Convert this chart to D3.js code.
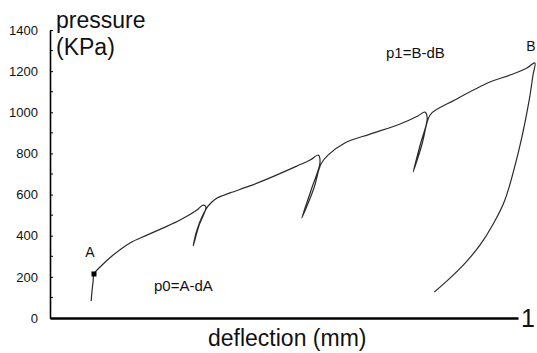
<!DOCTYPE html>
<html>
<head>
<meta charset="utf-8">
<script src="https://cdn.jsdelivr.net/npm/d3@7"></script>
<style>
  html, body { margin: 0; padding: 0; background: #fff; }
  svg { display: block; font-family: "Liberation Sans", Arial, sans-serif; }
</style>
</head>
<body>
<svg id="chart" width="537" height="353"></svg>
<script>
// Pressure–deflection record: loading with three unload/reload loops, then final unloading.
const deflection = [
  0.088, 0.090, 0.092, 0.094, 0.107, 0.135, 0.171, 0.207, 0.241, 0.278, 0.314, 0.327, 0.333,
  0.318, 0.306, 0.314, 0.335,
  0.346, 0.357, 0.385, 0.427, 0.470, 0.528, 0.556, 0.573, 0.577,
  0.558, 0.538, 0.564, 0.579,
  0.594, 0.630, 0.684, 0.748, 0.786, 0.801, 0.806,
  0.791, 0.776, 0.795, 0.808,
  0.816, 0.865, 0.940, 0.983, 1.019, 1.036,
  1.032, 1.024, 1.002, 0.972, 0.947, 0.919, 0.889, 0.857, 0.821
];
const pressure = [
  83, 136, 175, 214, 248, 306, 365, 403, 437, 476, 525, 549, 540,
  447, 350, 428, 535,
  564, 583, 608, 642, 681, 739, 768, 792, 758,
  622, 486, 632, 749,
  792, 851, 894, 943, 982, 1001, 972,
  841, 710, 846, 967,
  997, 1060, 1147, 1181, 1215, 1240,
  1181, 1060, 817, 574, 457, 355, 272, 199, 126
];
const yTickValues = [0, 200, 400, 600, 800, 1000, 1200, 1400];
const yMinorTicks = [100, 300, 500, 700, 900, 1100, 1300];

// Marked points on the curve
const pointA = { d: 0.094, p: 214, label: "A" };
const pointB = { d: 1.036, p: 1240, label: "B" };

const svg = d3.select("#chart");
const x = d3.scaleLinear().domain([0, 1]).range([50, 518]);
const y = d3.scaleLinear().domain([0, 1400]).range([318, 30]);

// y axis with small inward ticks
const yAxis = svg.append("g")
  .attr("transform", `translate(${x(0)},0)`)
  .call(d3.axisLeft(y).tickValues(yTickValues).tickSizeInner(-3).tickSizeOuter(0).tickPadding(12)
    .tickFormat(d3.format("d")));
yAxis.select(".domain").attr("stroke", "#000").attr("stroke-width", 1.6);
yAxis.selectAll(".tick line").attr("stroke", "#000");
yAxis.selectAll(".tick text").attr("font-size", 13).attr("fill", "#111")
  .attr("font-family", "\"Liberation Sans\", Arial, sans-serif");
svg.append("g").selectAll("line").data(yMinorTicks).join("line")
  .attr("x1", x(0)).attr("x2", x(0) + 3)
  .attr("y1", d => y(d)).attr("y2", d => y(d))
  .attr("stroke", "#000").attr("stroke-width", 1);

// x axis: plain heavy baseline
const xAxis = svg.append("g")
  .attr("transform", `translate(0,${y(0)})`)
  .call(d3.axisBottom(x).tickValues([]).tickSizeOuter(0));
xAxis.select(".domain").attr("stroke", "#000").attr("stroke-width", 2.4);

// the curve
const idx = d3.range(deflection.length);
const line = d3.line()
  .x(i => x(deflection[i]))
  .y(i => y(pressure[i]))
  .curve(d3.curveCatmullRom.alpha(0.5));
svg.append("path")
  .datum(idx)
  .attr("d", line)
  .attr("fill", "none")
  .attr("stroke", "#2a2a2a")
  .attr("stroke-width", 1.2)
  .attr("stroke-linejoin", "round");

// point A marker
svg.append("rect")
  .attr("x", x(pointA.d) - 2.5).attr("y", y(pointA.p) - 2.5)
  .attr("width", 5).attr("height", 5).attr("fill", "#000");

const text = (t, px, py, size, anchor = "start") =>
  svg.append("text").attr("x", px).attr("y", py).attr("font-size", size)
    .attr("text-anchor", anchor).attr("fill", "#111").text(t);

text(pointA.label, x(pointA.d) - 4, y(pointA.p) - 17, 14, "middle");
text(pointB.label, x(pointB.d) - 4, y(pointB.p) - 12, 14, "middle");
text("p0=A-dA", 154, 291, 15);
text("p1=B-dB", 386, 58, 15);

// axis titles
text("pressure", 56, 28, 23);
text("(KPa)", 56, 55, 23);
text("deflection (mm)", 208, 346, 23);
text("1", 521, 327, 25);
</script>
</body>
</html>
